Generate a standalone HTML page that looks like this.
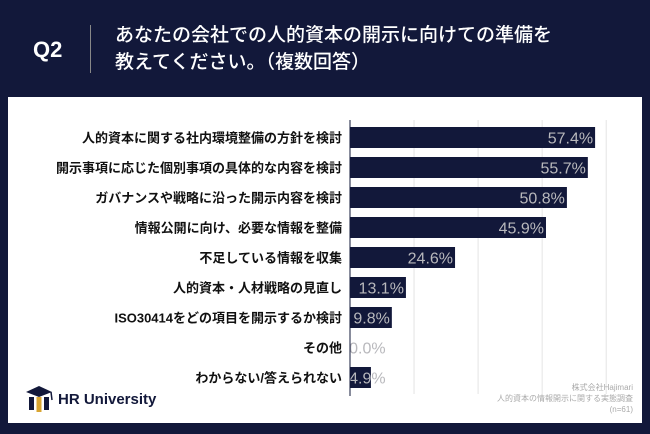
<!DOCTYPE html>
<html><head><meta charset="utf-8"><style>
body{margin:0;width:650px;height:434px;background:#12183a;overflow:hidden;font-family:"Liberation Sans","Noto Sans CJK JP",sans-serif;position:relative}
.hdr{position:absolute;color:#fff}
</style></head><body>
<div class="hdr" style="left:33px;top:37px;font-size:22px;font-weight:bold">Q2</div>
<div style="position:absolute;left:90px;top:25px;width:1px;height:48px;background:#888"></div>
<div class="hdr" style="left:115px;top:22px;font-size:19px;line-height:27px;font-weight:500">あなたの会社での人的資本の開示に向けての準備を<br>教えてください。（複数回答）</div>
<div style="position:absolute;left:8px;top:97px;width:634px;height:326px;background:#fff"></div>
<svg id="c" width="650" height="434" style="position:absolute;left:0;top:0"></svg>
<div style="position:absolute;left:24px;top:384px;display:flex;align-items:center">
<svg width="30" height="30"><polygon points="2,8 15,2 28,8 15,13" fill="#12183a"/><rect x="5" y="13" width="5" height="13" fill="#12183a"/><rect x="12.5" y="13" width="5" height="15" fill="#d9a531"/><rect x="20" y="13" width="5" height="13" fill="#12183a"/><line x1="27" y1="8" x2="28" y2="16" stroke="#12183a" stroke-width="1.5"/></svg>
<span style="font-size:15px;font-weight:600;color:#12183a;margin-left:4px">HR University</span></div>
<div style="position:absolute;right:17px;top:382px;text-align:right;font-size:8px;line-height:11px;color:#aaa">株式会社Hajimari<br>人的資本の情報開示に関する実態調査<br>(n=61)</div>
<script>
const categories=["人的資本に関する社内環境整備の方針を検討","開示事項に応じた個別事項の具体的な内容を検討","ガバナンスや戦略に沿った開示内容を検討","情報公開に向け、必要な情報を整備","不足している情報を収集","人的資本・人材戦略の見直し","ISO30414をどの項目を開示するか検討","その他","わからない/答えられない"];
const values=[57.4,55.7,50.8,45.9,24.6,13.1,9.8,0.0,4.9];
const gridTicks=[0,15,30,45,60];
const ns="http://www.w3.org/2000/svg",svg=document.getElementById('c');
const x=v=>350+v*4.27, y=i=>127+i*30;
function mk(t,a){const e=document.createElementNS(ns,t);for(const k in a)e.setAttribute(k,a[k]);svg.appendChild(e);return e;}
gridTicks.forEach((t,i)=>{if(i===0)return;const l=mk('line',{x1:x(t),x2:x(t),y1:120,y2:394,stroke:'#e4e4e4','stroke-width':1});

});
categories.forEach((c,i)=>{
const b=mk('rect',{x:350,y:y(i),width:Math.max(0,x(values[i])-350),height:21,fill:'#12183a'});


const lb=mk('text',{x:342,y:y(i)+15.5,'text-anchor':'end','font-size':13,'font-weight':'bold',fill:'#111'});lb.textContent=c;


const txt=values[i].toFixed(1)+'%';const w=txt.length*8.4;
const end=Math.max(x(values[i])-2,352+w);
const vl=mk('text',{x:end,y:y(i)+16.5,'text-anchor':'end','font-size':16,fill:'#b8b8bc'});vl.textContent=txt;


});
const ax=mk('line',{x1:350,x2:350,y1:120,y2:396,stroke:'#12183a','stroke-width':1});


</script>
</body></html>
